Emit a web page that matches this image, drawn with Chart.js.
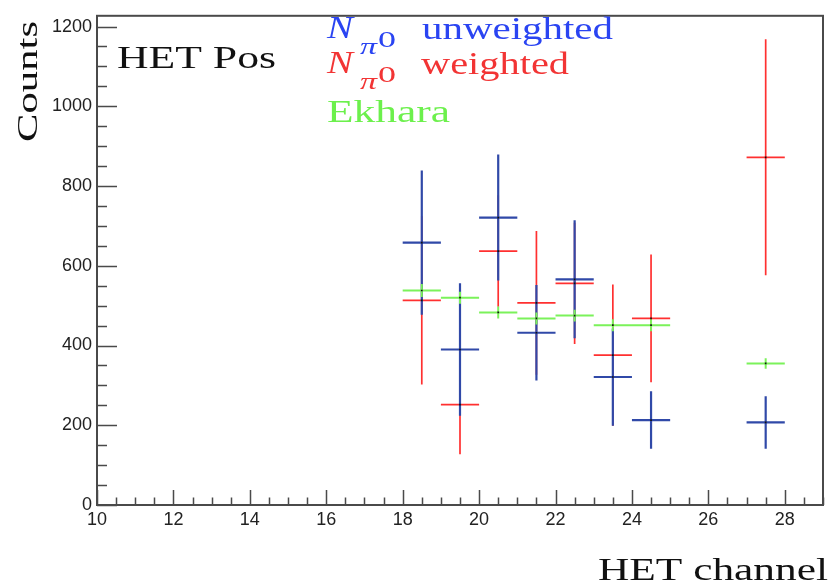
<!DOCTYPE html>
<html>
<head>
<meta charset="utf-8">
<script src="https://cdn.jsdelivr.net/npm/chart.js@4"></script>
<style>
  html, body { margin: 0; padding: 0; background: #fff; }
  #wrap { width: 833px; height: 587px; }
</style>
</head>
<body>
<div id="wrap"><canvas id="hetChart" width="833" height="587"></canvas></div>
<script>
// bin centres (HET channel), bin width 1
const channels = [18.5, 19.5, 20.5, 21.5, 22.5, 23.5, 24.5, 25.5, 26.5, 27.5];
const binWidth = 1;

// N_pi0 unweighted
const unweighted = [658, 390, 721, 432, 566, 321, 213, null, null, 207];
const unweightedErr = [181, 166, 158, 120, 148, 122, 72, null, null, 66];
// N_pi0 weighted
const weighted = [513, 252, 637, 507, 556, 376, 468, null, null, 872];
const weightedErr = [211, 125, 140, 180, 152, 177, 160, null, null, 296];
// Ekhara
const ekhara = [538, 520, 483, 468, 475, 451, 451, null, null, 355];
const ekharaErr = [16, 15, 15, 15, 15, 15, 15, null, null, 13];

// axis ticks
const xTickLabels = [10, 12, 14, 16, 18, 20, 22, 24, 26, 28];
const yTickLabels = [0, 200, 400, 600, 800, 1000, 1200];

// 가로 막대 + 세로 오차 막대를 하나의 선 데이터로
function errorSegments(vals, errs) {
  const pts = [];
  channels.forEach(function (c, i) {
    const v = vals[i];
    if (v === null) return;
    pts.push({ x: c - binWidth / 2, y: v }, { x: c + binWidth / 2, y: v }, { x: c + binWidth / 2, y: null });
    pts.push({ x: c, y: v - errs[i] }, { x: c, y: v + errs[i] }, { x: c, y: null });
  });
  return pts;
}

function centres(vals) {
  const pts = [];
  channels.forEach(function (c, i) {
    if (vals[i] !== null) pts.push({ x: c, y: vals[i] });
  });
  return pts;
}

function segDataset(label, vals, errs, color, width, order) {
  return {
    label: label,
    data: errorSegments(vals, errs),
    showLine: true,
    spanGaps: false,
    borderColor: color,
    backgroundColor: color,
    borderWidth: width,
    borderCapStyle: 'butt',
    pointRadius: 0,
    tension: 0,
    fill: false,
    order: order,
  };
}

// 텍스트 폭을 맞춰서 그리기
function fitText(ctx, str, x, y, w, size, color, italic, rotate) {
  ctx.save();
  ctx.font = (italic ? 'italic ' : '') + size + 'px "Liberation Serif", "DejaVu Serif", serif';
  ctx.fillStyle = color;
  ctx.textBaseline = 'alphabetic';
  ctx.textAlign = 'left';
  const m = ctx.measureText(str).width;
  ctx.translate(x, y);
  if (rotate) ctx.rotate(-Math.PI / 2);
  ctx.scale(w / m, 1);
  ctx.fillText(str, 0, 0);
  ctx.restore();
}

const frameAndText = {
  id: 'frameAndText',
  afterDraw: function (chart) {
    const ctx = chart.ctx;
    const a = chart.chartArea;
    const xs = chart.scales.x;
    const ys = chart.scales.y;

    ctx.save();
    ctx.strokeStyle = '#4a4a4a';
    ctx.lineWidth = 1.5;
    // ticks (inward)
    ctx.beginPath();
    for (let v = 10; v <= 29.001; v += 0.5) {
      const px = Math.round(xs.getPixelForValue(v)) + 0.5;
      const len = Math.abs(v % 2) < 1e-6 ? 15 : 7.5;
      ctx.moveTo(px, a.bottom);
      ctx.lineTo(px, a.bottom - len);
    }
    for (let v = 0; v <= 1227; v += 50) {
      const py = Math.round(ys.getPixelForValue(v)) + 0.5;
      const len = v % 200 === 0 ? 20 : 10;
      ctx.moveTo(a.left, py);
      ctx.lineTo(a.left + len, py);
    }
    ctx.stroke();
    // frame
    ctx.lineWidth = 2;
    ctx.strokeRect(a.left, a.top, a.right - a.left, a.bottom - a.top);
    ctx.restore();

    // titles
    fitText(ctx, 'HET Pos', 117, 68, 159, 31, '#111');
    fitText(ctx, 'HET channel', 598, 580, 230, 31, '#111');
    fitText(ctx, 'Counts', 37, 142, 121, 30, '#111', false, true);

    // legend text
    const blue = '#2a44f2';
    const red = '#f23434';
    const green = '#6cf04c';
    fitText(ctx, 'N', 327, 38, 26, 31, blue, true);
    fitText(ctx, '\u03c0', 360, 54, 17, 23, blue, true);
    fitText(ctx, '0', 378, 47, 18, 23, blue);
    fitText(ctx, 'unweighted', 422, 39, 191, 31, blue);

    fitText(ctx, 'N', 327, 73, 26, 31, red, true);
    fitText(ctx, '\u03c0', 360, 89, 17, 23, red, true);
    fitText(ctx, '0', 378, 82, 18, 23, red);
    fitText(ctx, 'weighted', 421, 74, 148, 31, red);

    fitText(ctx, 'Ekhara', 327, 122, 123, 31, green);
  },
};

const ctx = document.getElementById('hetChart').getContext('2d');
const hetChart = new Chart(ctx, {
  type: 'scatter',
  data: {
    datasets: [
      {
        label: 'centres',
        data: centres(unweighted).concat(centres(weighted), centres(ekhara)),
        pointStyle: 'rect',
        pointRadius: 1.2,
        backgroundColor: '#111',
        borderWidth: 0,
        order: 0,
      },
      segDataset('Ekhara', ekhara, ekharaErr, '#7bf25a', 2, 1),
      segDataset('N_pi0 unweighted', unweighted, unweightedErr, '#3049a8', 2.2, 2),
      segDataset('N_pi0 weighted', weighted, weightedErr, '#ff3030', 1.7, 3),
    ],
  },
  options: {
    responsive: false,
    animation: false,
    devicePixelRatio: 1,
    layout: { padding: { top: 13, right: 10, left: 0, bottom: 0 } },
    plugins: { legend: { display: false }, tooltip: { enabled: false } },
    scales: {
      x: {
        type: 'linear',
        min: 10,
        max: 29,
        grid: { display: false, drawTicks: false },
        border: { display: false },
        ticks: {
          padding: 4,
          color: '#222',
          font: { family: '"Liberation Sans", Arial, sans-serif', size: 18 },
          callback: function (v) { return String(v); },
        },
        afterBuildTicks: function (s) { s.ticks = xTickLabels.map(v => ({ value: v })); },
        afterFit: function (s) { s.height = 82; },
      },
      y: {
        min: 0,
        max: 1227,
        grid: { display: false, drawTicks: false },
        border: { display: false },
        ticks: {
          padding: 5,
          color: '#222',
          font: { family: '"Liberation Sans", Arial, sans-serif', size: 18 },
          callback: function (v) { return String(v); },
        },
        afterBuildTicks: function (s) { s.ticks = yTickLabels.map(v => ({ value: v })); },
        afterFit: function (s) { s.width = 97; },
      },
    },
  },
  plugins: [frameAndText],
});
</script>
</body>
</html>
